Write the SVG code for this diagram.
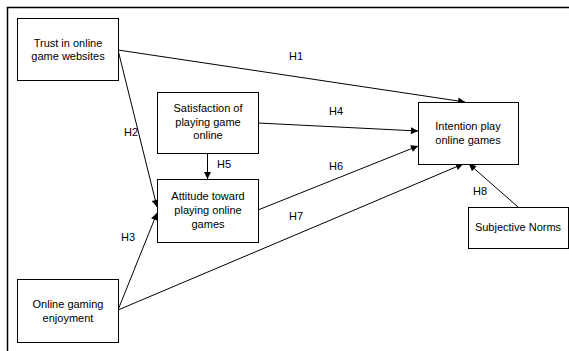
<svg xmlns="http://www.w3.org/2000/svg" width="569" height="351" viewBox="0 0 569 351">
<style>
.box{fill:#fff;stroke:#000;stroke-width:1}
.t{font-family:"Liberation Sans",Arial,sans-serif;font-size:11px;fill:#000;text-anchor:middle}
.c{stroke:#000;stroke-width:1;fill:none;marker-end:url(#ah)}
</style>
<defs>
<marker id="ah" viewBox="0 0 10 10" refX="10" refY="5" markerWidth="9" markerHeight="7" markerUnits="userSpaceOnUse" orient="auto">
<path d="M0,0 L10,5 L0,10 z" fill="#000"/>
</marker>
</defs>
<rect width="569" height="351" fill="#fff"/>
<path d="M7.5,351 V7.5 H569" stroke="#000" stroke-width="1.5" fill="none"/>
<g id="connectors">
<line class="c" x1="118" y1="50" x2="465" y2="102"/>
<line class="c" x1="118" y1="50" x2="157" y2="207"/>
<line class="c" x1="118" y1="310" x2="157" y2="213"/>
<line class="c" x1="258" y1="123" x2="418" y2="131"/>
<line class="c" x1="207.5" y1="153" x2="207.5" y2="179"/>
<line class="c" x1="258" y1="210" x2="418" y2="146"/>
<line class="c" x1="118" y1="310" x2="463" y2="164"/>
<line class="c" x1="518" y1="207" x2="469" y2="164"/>
<text class="t" x="296" y="60">H1</text>
<text class="t" x="131" y="136">H2</text>
<text class="t" x="128" y="241">H3</text>
<text class="t" x="336" y="115">H4</text>
<text class="t" x="224" y="168">H5</text>
<text class="t" x="336" y="170">H6</text>
<text class="t" x="296" y="220">H7</text>
<text class="t" x="480" y="195">H8</text>
</g>
<g id="trust">
<rect class="box" x="17.5" y="18.5" width="101" height="62"/>
<text class="t" x="68" y="47">Trust in online</text>
<text class="t" x="68" y="60">game websites</text>
</g>
<g id="satisfaction">
<rect class="box" x="157.5" y="92.5" width="101" height="61"/>
<text class="t" x="208" y="112">Satisfaction of</text>
<text class="t" x="208" y="126">playing game</text>
<text class="t" x="208" y="139">online</text>
</g>
<g id="attitude">
<rect class="box" x="157.5" y="179.5" width="101" height="63"/>
<text class="t" x="208" y="200">Attitude toward</text>
<text class="t" x="208" y="214">playing online</text>
<text class="t" x="208" y="228">games</text>
</g>
<g id="intention">
<rect class="box" x="418.5" y="102.5" width="100" height="62"/>
<text class="t" x="468" y="130">Intention play</text>
<text class="t" x="468" y="144">online games</text>
</g>
<g id="subjective">
<rect class="box" x="468.5" y="207.5" width="100" height="41"/>
<text class="t" x="518" y="231">Subjective Norms</text>
</g>
<g id="enjoyment">
<rect class="box" x="17.5" y="279.5" width="101" height="63"/>
<text class="t" x="68" y="308">Online gaming</text>
<text class="t" x="68" y="322">enjoyment</text>
</g>
</svg>
